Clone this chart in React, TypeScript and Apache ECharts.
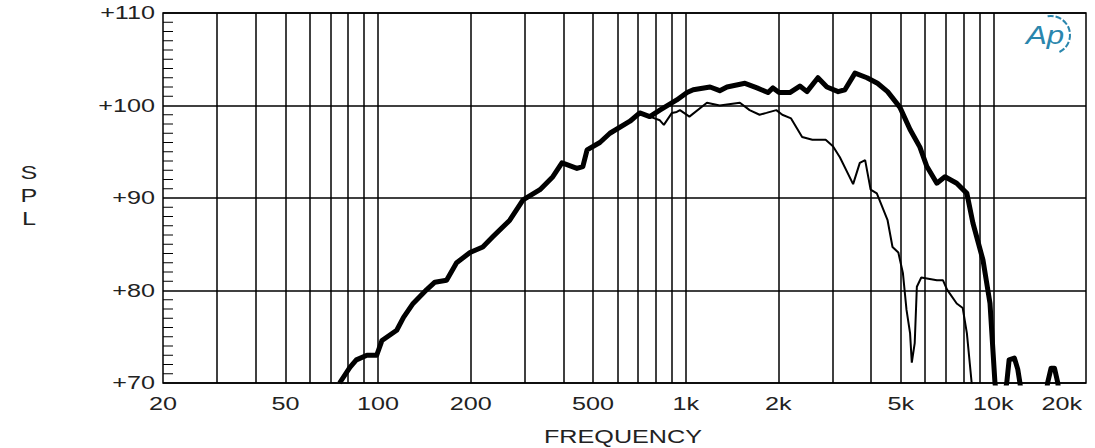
import React, { useEffect, useRef } from "react";
import * as echarts from "echarts";

// ---- axis ticks / labels ----
const X_TICKS = [20, 50, 100, 200, 500, 1000, 2000, 5000, 10000, 20000];
const X_TICK_LABELS = ["20", "50", "100", "200", "500", "1k", "2k", "5k", "10k", "20k"];
const GRID_FREQS = [
  30, 40, 50, 60, 70, 80, 90, 100, 200, 300, 400, 500, 600, 700, 800, 900, 1000, 2000, 3000, 4000,
  5000, 6000, 7000, 8000, 9000, 10000,
];
const Y_TICKS = [70, 80, 90, 100, 110];
const Y_TICK_LABELS = ["+70", "+80", "+90", "+100", "+110"];
const Y_MINOR_TICKS = [
  71, 72, 73, 74, 75, 76, 77, 78, 79, 81, 82, 83, 84, 85, 86, 87, 88, 89, 91, 92, 93, 94, 95, 96, 97,
  98, 99, 101, 102, 103, 104, 105, 106, 107, 108, 109,
];

// ---- thick curve ----
const THICK_FREQ = [
  75, 81, 85, 92, 99, 103, 115, 121, 130, 144, 153, 167, 180, 199, 219, 236, 268, 296, 336, 370, 396,
  411, 443, 463, 478, 526, 567, 659, 709, 764, 824, 935, 1010, 1058, 1200, 1290, 1362, 1558, 1705,
  1850, 1921, 2012, 2180, 2350, 2478, 2690, 2877, 3130, 3292, 3550, 3882, 4200, 4530, 4970, 5360,
  5770, 6080, 6550, 6960, 7600, 8200, 8580, 9250, 9750, 10120, 10500, 11050, 11250, 11700, 12000,
  12200, 12600, 14600, 15000, 15400, 15800, 16200, 16600,
];
const THICK_SPL = [
  70.0, 71.7, 72.5, 73.0, 73.0, 74.6, 75.7, 77.1, 78.6, 80.1, 80.9, 81.1, 83.0, 84.1, 84.7, 85.8,
  87.6, 89.8, 90.9, 92.3, 93.8, 93.6, 93.2, 93.4, 95.2, 96.0, 97.0, 98.3, 99.2, 98.8, 99.5, 100.6,
  101.4, 101.7, 102.0, 101.6, 102.0, 102.4, 101.9, 101.4, 101.9, 101.4, 101.4, 102.1, 101.5, 103.0,
  102.0, 101.5, 101.7, 103.5, 103.0, 102.4, 101.5, 99.8, 97.4, 95.5, 93.4, 91.6, 92.3, 91.6, 90.5,
  87.3, 83.3, 78.6, 70.0, 66.0, 70.0, 72.5, 72.7, 71.5, 70.0, 66.0, 66.0, 70.0, 71.6, 71.6, 70.0,
  66.0,
];

// ---- thin curve ----
const THIN_FREQ = [
  526, 567, 659, 709, 764, 824, 849, 902, 935, 958, 1028, 1172, 1290, 1500, 1613, 1738, 1830, 1970,
  2060, 2200, 2390, 2580, 2850, 3010, 3170, 3500, 3680, 3830, 3990, 4180, 4530, 4700, 4910, 5080,
  5220, 5360, 5430, 5550, 5640, 5830, 6550, 6860, 7070, 7600, 7950, 8200, 8500, 8700,
];
const THIN_SPL = [
  96.0, 97.0, 98.3, 99.2, 98.8, 98.4, 97.9, 99.2, 99.3, 99.5, 98.8, 100.3, 100.0, 100.3, 99.5, 99.0,
  99.2, 99.5, 99.0, 98.6, 96.6, 96.3, 96.3, 95.6, 94.4, 91.5, 93.8, 94.1, 90.9, 90.5, 87.6, 84.7,
  84.1, 81.9, 77.9, 75.4, 72.2, 74.3, 80.4, 81.4, 81.1, 81.1, 80.1, 78.6, 78.1, 75.4, 70.0, 67.0,
];

const FONT = "'Liberation Sans', Arial, sans-serif";
const TEXT_COLOR = "#222";
const STRETCH = 1.4;

export default function App() {
  const ref = useRef<HTMLDivElement>(null);

  useEffect(() => {
    if (!ref.current) return;
    const chart = echarts.init(ref.current, undefined, { renderer: "svg" });

    const thick = THICK_FREQ.map((f, i) => [f, THICK_SPL[i]]);
    const thin = THIN_FREQ.map((f, i) => [f, THIN_SPL[i]]);

    chart.setOption({
      animation: false,
      backgroundColor: "#fff",
      grid: {
        left: 163,
        right: 9,
        top: 13,
        bottom: 65,
        show: true,
        borderColor: "#000",
        borderWidth: 1.5,
        backgroundColor: "transparent",
      },
      xAxis: {
        type: "log",
        logBase: 10,
        min: 20,
        max: 20000,
        axisLine: { show: false },
        axisTick: { show: false },
        axisLabel: { show: false },
        splitLine: { show: false },
      },
      yAxis: {
        type: "value",
        min: 70,
        max: 110,
        interval: 10,
        axisLine: { show: false },
        axisTick: { show: false },
        axisLabel: { show: false },
        splitLine: { show: true, lineStyle: { color: "#000", width: 1.5 } },
      },
      graphic: [
        {
          type: "text",
          x: 29,
          y: 196,
          scaleX: STRETCH,
          style: {
            text: "S\nP\nL",
            align: "center",
            verticalAlign: "middle",
            fontSize: 18,
            lineHeight: 23,
            fontFamily: FONT,
            fill: TEXT_COLOR,
          },
        },
        {
          type: "text",
          x: 623,
          y: 437,
          scaleX: STRETCH,
          style: {
            text: "FREQUENCY",
            align: "center",
            verticalAlign: "middle",
            fontSize: 18,
            fontFamily: FONT,
            fill: TEXT_COLOR,
          },
        },
        {
          type: "text",
          x: 1045,
          y: 35,
          scaleX: 1.25,
          style: {
            text: "Ap",
            align: "center",
            verticalAlign: "middle",
            fontSize: 25,
            fontStyle: "italic",
            fontFamily: FONT,
            fill: "#2a86ad",
          },
        },
        {
          type: "arc",
          shape: { cx: 1051, cy: 35, r: 19, startAngle: -1.75, endAngle: 1.15, clockwise: true },
          style: { stroke: "#2a86ad", lineWidth: 2, fill: "none", lineDash: [6, 2] },
        },
      ],
      series: [
        {
          type: "line",
          data: [],
          silent: true,
          z: 1,
          markLine: {
            silent: true,
            symbol: ["none", "none"],
            label: { show: false },
            lineStyle: { color: "#000", width: 1.5, type: "solid" },
            emphasis: { disabled: true },
            data: GRID_FREQS.map((f) => ({ xAxis: f })),
          },
        },
        {
          type: "custom",
          silent: true,
          z: 2,
          data: Y_MINOR_TICKS.map((v) => [20, v]),
          renderItem: (params: any, api: any) => {
            const p = api.coord([api.value(0), api.value(1)]);
            return {
              type: "line",
              shape: { x1: p[0], y1: p[1], x2: p[0] + 10, y2: p[1] },
              style: { stroke: "#000", lineWidth: 1 },
            };
          },
        },
        {
          type: "line",
          data: thin,
          showSymbol: false,
          clip: true,
          z: 4,
          lineStyle: { color: "#000", width: 2 },
          silent: true,
        },
        {
          type: "line",
          data: thick,
          showSymbol: false,
          clip: true,
          z: 5,
          lineStyle: { color: "#000", width: 5, join: "round" },
          silent: true,
        },
        {
          type: "custom",
          silent: true,
          z: 6,
          data: X_TICKS.map((f, i) => [f, 70, i]),
          renderItem: (params: any, api: any) => {
            const p = api.coord([api.value(0), api.value(1)]);
            const i = api.value(2);
            const last = i === X_TICKS.length - 1;
            return {
              type: "text",
              x: last ? p[0] - 4 : p[0],
              y: p[1] + 21,
              scaleX: STRETCH,
              style: {
                text: X_TICK_LABELS[i],
                align: last ? "right" : "center",
                verticalAlign: "middle",
                fontSize: 18,
                fontFamily: FONT,
                fill: TEXT_COLOR,
              },
            };
          },
        },
        {
          type: "custom",
          silent: true,
          z: 6,
          data: Y_TICKS.map((v, i) => [20, v, i]),
          renderItem: (params: any, api: any) => {
            const p = api.coord([api.value(0), api.value(1)]);
            const i = api.value(2);
            return {
              type: "text",
              x: p[0] - 8,
              y: p[1],
              scaleX: STRETCH,
              style: {
                text: Y_TICK_LABELS[i],
                align: "right",
                verticalAlign: "middle",
                fontSize: 18,
                fontFamily: FONT,
                fill: TEXT_COLOR,
              },
            };
          },
        },
      ],
    });

    return () => chart.dispose();
  }, []);

  return (
    <div
      ref={ref}
      style={{ position: "absolute", left: 0, top: 0, width: 1095, height: 448, background: "#fff" }}
    />
  );
}
